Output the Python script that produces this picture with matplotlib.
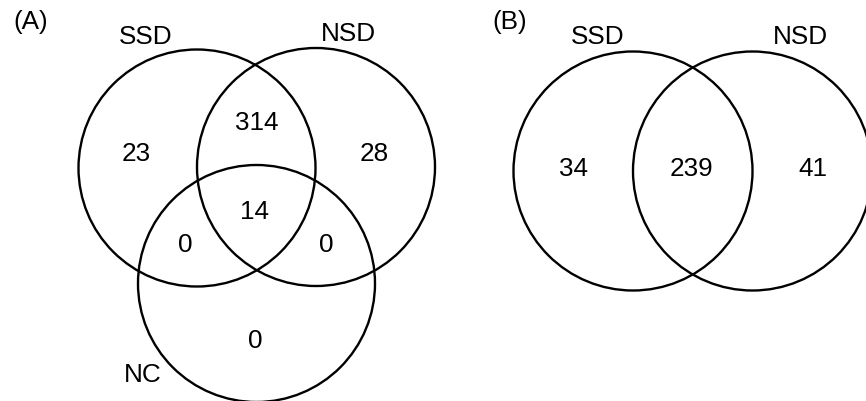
import matplotlib
matplotlib.use("Agg")
import matplotlib.pyplot as plt
from matplotlib.patches import Circle

plt.rcParams['font.family'] = ['Liberation Sans', 'DejaVu Sans']

# Data
set_labels_a = ["SSD", "NSD", "NC"]
# regions: SSD only, NSD only, SSD&NSD, SSD&NC, NSD&NC, all, NC only
counts_a = [23, 28, 314, 0, 0, 14, 0]
set_labels_b = ["SSD", "NSD"]
# regions: SSD only, SSD&NSD, NSD only
counts_b = [34, 239, 41]
panel_labels = ["(A)", "(B)"]

W, H = 866, 402
fig = plt.figure(figsize=(W / 100, H / 100), dpi=100)
ax = fig.add_axes([0, 0, 1, 1])
ax.set_xlim(0, W)
ax.set_ylim(H, 0)
ax.set_aspect('auto')
ax.axis('off')

lw = 1.7
fs = 18.8

# Panel A circles (center x, center y, radius)
circ_a = [(197, 169, 118.5), (316, 168, 119), (256.5, 284.5, 118.5)]
for cx, cy, r in circ_a:
    ax.add_patch(Circle((cx, cy), r, fill=False, lw=lw, ec='black'))

lab_pos_a = [(145.5, 37.5), (348, 34), (143, 375)]
for (x, y), t in zip(lab_pos_a, set_labels_a):
    ax.text(x, y, t, ha='center', va='center', fontsize=fs)

cnt_pos_a = [(136.5, 154), (374.5, 154), (256.5, 123.5), (185, 245), (326, 245), (254.5, 212.5), (255, 341.5)]
for (x, y), v in zip(cnt_pos_a, counts_a):
    ax.text(x, y, str(v), ha='center', va='center', fontsize=fs)

# Panel B circles
circ_b = [(633, 172, 119.5), (752.5, 172, 119.5)]
for cx, cy, r in circ_b:
    ax.add_patch(Circle((cx, cy), r, fill=False, lw=lw, ec='black'))

lab_pos_b = [(597.5, 37), (800, 37.5)]
for (x, y), t in zip(lab_pos_b, set_labels_b):
    ax.text(x, y, t, ha='center', va='center', fontsize=fs)

cnt_pos_b = [(573.5, 169.5), (691.5, 169.5), (812.5, 169.5)]
for (x, y), v in zip(cnt_pos_b, counts_b):
    ax.text(x, y, str(v), ha='center', va='center', fontsize=fs)

for (x, y), t in zip([(31, 21.5), (509.5, 21.5)], panel_labels):
    ax.text(x, y, t, ha='center', va='center', fontsize=fs)

fig.savefig("out.png", dpi=100, facecolor='white')
